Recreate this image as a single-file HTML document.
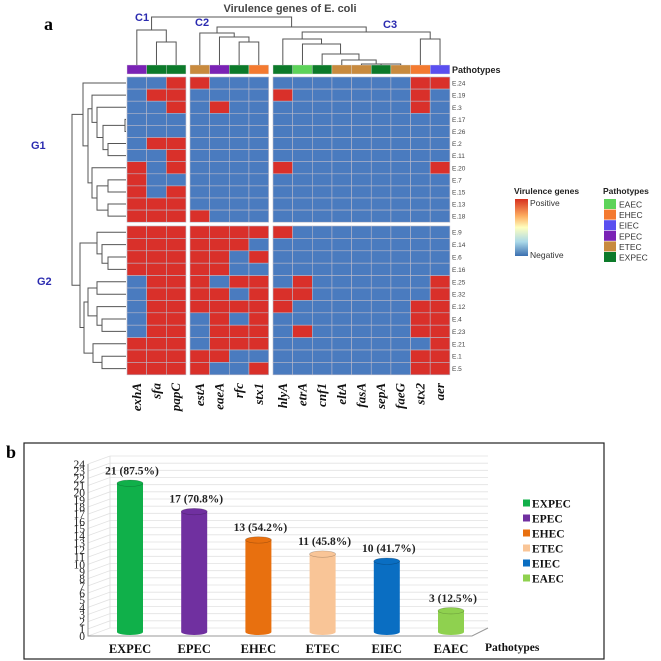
<!DOCTYPE html>
<html><head><meta charset="utf-8"><style>
html,body{margin:0;padding:0;background:#fff}
svg{display:block}
</style></head><body>
<svg id="fig" width="661" height="661" viewBox="0 0 661 661" xmlns="http://www.w3.org/2000/svg">
<g id="heat"></g>
<g id="bars"></g>
</svg>
<script>
const genes=["exhA","sfa","papC","estA","eaeA","rfc","stx1","hlyA","etrA","cnf1","eltA","fasA","sepA","faeG","stx2","aer"];
const geneGroup=[0,0,0,1,1,1,1,2,2,2,2,2,2,2,2,2];
const genePatho=["EPEC","EXPEC","EXPEC","ETEC","EPEC","EXPEC","EHEC","EXPEC","EAEC","EXPEC","ETEC","ETEC","EXPEC","ETEC","EHEC","EIEC"];
const topRows=["E.24","E.19","E.3","E.17","E.26","E.2","E.11","E.20","E.7","E.15","E.13","E.18"];
const botRows=["E.9","E.14","E.6","E.16","E.25","E.32","E.12","E.4","E.23","E.21","E.1","E.5"];
const topVals=[
"0011000000000011","0110000100000010","0010100000000010","0000000000000000",
"0000000000000000","0110000000000000","0010000000000000","1010000100000001",
"1000000000000000","1010000000000000","1110000000000000","1111000000000000"];
const botVals=[
"1111111100000000","1111110000000000","1111101000000000","1111100000000000",
"0111011010000001","0111101110000001","0111111100000011","0110101000000011",
"0110111010000011","1110111000000001","1111100000000011","1111001000000011"];
const pathoColors={EAEC:"#5dd35a",EHEC:"#f47a30",EIEC:"#5a4ff0",EPEC:"#7a22b5",ETEC:"#c88a3e",EXPEC:"#0c7a2a"};
const pathoOrder=["EAEC","EHEC","EIEC","EPEC","ETEC","EXPEC"];

const categories=["EXPEC","EPEC","EHEC","ETEC","EIEC","EAEC"];
const counts=[21,17,13,11,10,3];
const pctLabels=["87.5%","70.8%","54.2%","45.8%","41.7%","12.5%"];
const barColors=["#10b04a","#7030a0","#e8700f","#f9c597","#0a6ec2","#8fd14f"];
const yTicks=[0,1,2,3,4,5,6,7,8,9,10,11,12,13,14,15,16,17,18,19,20,21,22,23,24];

const NS="http://www.w3.org/2000/svg";
function mk(parent,tag,attrs,text){const e=document.createElementNS(NS,tag);for(const k in attrs)e.setAttribute(k,attrs[k]);if(text!==undefined)e.textContent=text;parent.appendChild(e);return e;}

// ---------- Heatmap ----------
const H=document.getElementById('heat');
const blockStart=[127,190,273], colW=19.65;
function colX(j){const g=geneGroup[j];let idx=0;for(let k=0;k<j;k++)if(geneGroup[k]===g)idx++;return blockStart[g]+idx*colW;}
function colC(j){return colX(j)+colW/2;}
const topY0=77,topH=12.1,botY0=226,botH=12.4;
function rowC(r){return r<12?topY0+topH*(r+0.5):botY0+botH*(r-12+0.5);}

let t=mk(H,'text',{x:290,y:12,'text-anchor':'middle','font-family':'Liberation Sans, sans-serif','font-size':11,'font-weight':'bold',fill:'#444'},'Virulence genes of E. coli');

t=mk(H,'text',{x:44,y:30,'font-family':'Liberation Serif, serif','font-size':18,'font-weight':'bold',fill:'#000'},'a');

[["C1",135,21],["C2",195,26],["C3",383,28],["G1",31,149],["G2",37,285]].forEach(c=>{
 const e=mk(H,'text',{x:c[1],y:c[2],'font-family':'Liberation Sans, sans-serif','font-size':11,'font-weight':'bold',fill:'#2b2bb0'},c[0]);
 
 
});

genes.forEach((g,j)=>{
 const r=mk(H,'rect',{x:colX(j),y:65,width:colW,height:9,fill:pathoColors[genePatho[j]],stroke:'#ddd','stroke-width':0.4});
 
 
});
t=mk(H,'text',{x:452,y:73,'font-family':'Liberation Sans, sans-serif','font-size':9,'font-weight':'bold',fill:'#222'},'Pathotypes');


function drawRows(rows,vals,y0,h){
 rows.forEach((name,i)=>{
  genes.forEach((g,j)=>{
   const v=vals[i][j]==='1';
   const c=mk(H,'rect',{x:colX(j),y:y0+i*h,width:colW,height:h,fill:v?'#d9302a':'#4a7bbf',stroke:'#b9b9c9','stroke-width':0.6});
   
   
  });
  const l=mk(H,'text',{x:452,y:y0+i*h+h/2+2.5,'font-family':'Liberation Sans, sans-serif','font-size':6.5,fill:'#444'},name);
  
  
 });
}
drawRows(topRows,topVals,topY0,topH);
drawRows(botRows,botVals,botY0,botH);

genes.forEach((g,j)=>{
 const x=colC(j)+4;
 const e=mk(H,'text',{x:x,y:383,transform:'rotate(-90 '+x+' 383)','text-anchor':'end','font-family':'Liberation Serif, serif','font-size':13,'font-style':'italic','font-weight':'bold',fill:'#111'},g);
 
 
});

const colTree=[17,[30,0,[42,1,2]],[27,[33,3,[37,4,[42,5,6]]],[32,[39,7,[44,8,[54,9,[60,10,[64,11,[64,12,13]]]]]],[39,14,15]]]];
function dcol(n){ if(typeof n==='number') return {x:colC(n),y:65};
 const a=dcol(n[1]),b=dcol(n[2]),y=n[0];
 const p=mk(H,'path',{d:`M${a.x},${a.y}V${y}H${b.x}V${b.y}`,fill:'none',stroke:'#555','stroke-width':1});
 
 return {x:(a.x+b.x)/2,y:y};}
dcol(colTree);

const rowTree=[72,
 [83,0,[88,[92,1,[97,2,[103,[125,3,4],[108,5,6]]]],[92,7,[97,[108,8,9],[108,10,11]]]]],
 [80,[97,12,[102,13,[108,14,15]]],[84,[88,[97,16,17],[97,18,[102,19,20]]],[93,21,[102,22,23]]]]];
function drow(n){ if(typeof n==='number') return {x:126,y:rowC(n)};
 const a=drow(n[1]),b=drow(n[2]),x=n[0];
 const p=mk(H,'path',{d:`M${a.x},${a.y}H${x}V${b.y}H${b.x}`,fill:'none',stroke:'#555','stroke-width':1});
 
 return {x:x,y:(a.y+b.y)/2};}
drow(rowTree);

const defs=mk(H,'defs',{});
const lg=mk(defs,'linearGradient',{id:'vg',x1:0,y1:0,x2:0,y2:1});
[["0","#d7301f"],["0.3","#fdae61"],["0.5","#ffffbf"],["0.75","#abd9e9"],["1","#3a6fb0"]].forEach(s=>mk(lg,'stop',{offset:s[0],'stop-color':s[1]}));
t=mk(H,'text',{x:514,y:194,'font-family':'Liberation Sans, sans-serif','font-size':8.5,'font-weight':'bold',fill:'#222'},'Virulence genes');

let r=mk(H,'rect',{x:515,y:199,width:13,height:57,fill:'url(#vg)'});

t=mk(H,'text',{x:530,y:206,'font-family':'Liberation Sans, sans-serif','font-size':8.5,fill:'#333'},'Positive');

t=mk(H,'text',{x:530,y:258,'font-family':'Liberation Sans, sans-serif','font-size':8.5,fill:'#333'},'Negative');

t=mk(H,'text',{x:603,y:194,'font-family':'Liberation Sans, sans-serif','font-size':8.5,'font-weight':'bold',fill:'#222'},'Pathotypes');

pathoOrder.forEach((p,i)=>{
 const y=199+i*10.6;
 const s=mk(H,'rect',{x:604,y:y,width:12,height:10,fill:pathoColors[p]});
 
 
 const l=mk(H,'text',{x:619,y:y+8.5,'font-family':'Liberation Sans, sans-serif','font-size':8.5,fill:'#333'},p);
 
 
});

// ---------- Bar chart ----------
const B=document.getElementById('bars');
r=mk(B,'rect',{x:24,y:443,width:580,height:216,fill:'#fff',stroke:'#222','stroke-width':1.2});

t=mk(B,'text',{x:6,y:458,'font-family':'Liberation Serif, serif','font-size':18,'font-weight':'bold',fill:'#000'},'b');

const yMax=24;
function yAx(v){return 636-v*(172/yMax);}
function yBar(v){return 632-v*(170/yMax);}
const dx=22,dy=-8;
yTicks.forEach(v=>{
 const y=yAx(v);
 const g=mk(B,'path',{d:`M88,${y}L${88+dx},${y+dy}H488`,fill:'none',stroke:'#e2e2e2','stroke-width':0.8});
 
 const l=mk(B,'text',{x:85,y:y+4,'text-anchor':'end','font-family':'Liberation Serif, serif','font-size':11.5,fill:'#222'},String(v));
 
});
let ax=mk(B,'path',{d:`M88,${yAx(yMax)}V${yAx(0)}H${88+64*6}L${488},${yAx(0)+dy}`,fill:'none',stroke:'#999','stroke-width':1});

ax=mk(B,'path',{d:`M${88+dx},${yAx(0)+dy}V${yAx(yMax)+dy}`,fill:'none',stroke:'#ddd','stroke-width':0.8});

const bw=26;
categories.forEach((c,i)=>{
 const cx=130+i*64.2;
 const top=yBar(counts[i]),bot=yBar(0);
 const col=barColors[i];
 const b=mk(B,'path',{d:`M${cx-bw/2},${top}V${bot}A${bw/2},3 0 0 0 ${cx+bw/2},${bot}V${top}Z`,fill:col});
 
 const e=mk(B,'ellipse',{cx:cx,cy:top,rx:bw/2,ry:3.2,fill:col,stroke:'rgba(0,0,0,0.25)','stroke-width':0.6});
 
 const v=mk(B,'text',{x:cx+2,y:top-9,'text-anchor':'middle','font-family':'Liberation Serif, serif','font-size':11.5,'font-weight':'bold',fill:'#222'},counts[i]+' ('+pctLabels[i]+')');
 
 const l=mk(B,'text',{x:cx,y:653,'text-anchor':'middle','font-family':'Liberation Serif, serif','font-size':12.5,'font-weight':'bold',fill:'#111'},c);
 
 const lgY=503+i*15;
 const s=mk(B,'rect',{x:523,y:lgY-3.5,width:7,height:7,fill:col});
 
 const lt=mk(B,'text',{x:532,y:lgY+4.5,'font-family':'Liberation Serif, serif','font-size':11.5,'font-weight':'bold',fill:'#111'},c);
 
});
t=mk(B,'text',{x:485,y:651,'font-family':'Liberation Serif, serif','font-size':11.5,'font-weight':'bold',fill:'#111'},'Pathotypes');

</script>
</body></html>
